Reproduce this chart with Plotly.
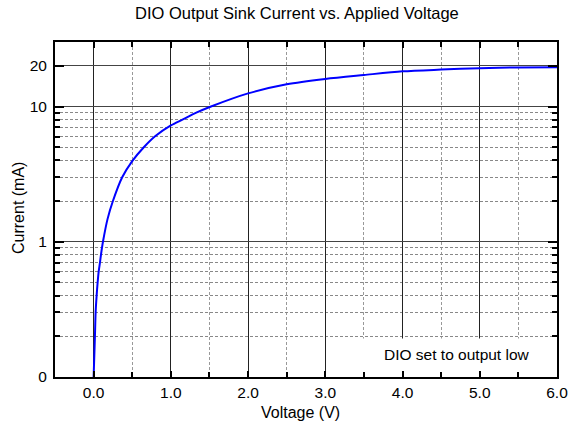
import plotly.graph_objects as go

# Data
voltage = [0.0, 0.017, 0.026, 0.039, 0.052, 0.065, 0.082, 0.095, 0.108, 0.121,
           0.18, 0.25, 0.37, 0.5, 0.65, 0.8, 1.0, 1.15, 1.33, 1.52,
           2.0, 2.5, 3.0, 3.5, 4.0, 4.5, 5.0, 5.5, 6.0]
current = [0.1, 0.2, 0.3, 0.4, 0.5, 0.6, 0.7, 0.8, 0.9, 1.0,
           1.47, 2.0, 3.0, 3.95, 5.0, 6.05, 7.25, 8.0, 9.0, 10.0,
           12.5, 14.6, 16.0, 17.1, 18.2, 18.75, 19.2, 19.45, 19.55]

x_tick_vals = [0, 1, 2, 3, 4, 5, 6]
x_tick_text = ["0.0", "1.0", "2.0", "3.0", "4.0", "5.0", "6.0"]
x_minor_vals = [-0.5, 0.5, 1.5, 2.5, 3.5, 4.5, 5.5]
y_tick_vals = [0.1, 1, 10, 20]
y_tick_text = ["0", "1", "10", "20"]
y_minor_vals = [0.2, 0.3, 0.4, 0.5, 0.6, 0.7, 0.8, 0.9, 2, 3, 4, 5, 6, 7, 8, 9]

# note box extent (x in volts, y in mA) – background only
note_box_x = [3.2, 6.0]
note_box_y = [0.1, 0.193]

FONT = "Liberation Sans, Arial, Helvetica, sans-serif"

fig = go.Figure()

# white background for the note, above gridlines, below axes
fig.add_trace(go.Scatter(
    x=[note_box_x[0], note_box_x[1], note_box_x[1], note_box_x[0], note_box_x[0]],
    y=[note_box_y[0], note_box_y[0], note_box_y[1], note_box_y[1], note_box_y[0]],
    mode="lines", fill="toself", fillcolor="white",
    line=dict(width=0, color="white"),
    showlegend=False, hoverinfo="skip"))

fig.add_trace(go.Scatter(
    x=voltage, y=current, mode="lines",
    line=dict(color="#0000FF", width=2, shape="spline", smoothing=0.8),
    showlegend=False, hoverinfo="skip"))

fig.update_layout(
    width=569, height=430,
    margin=dict(l=55, r=12, t=42, b=53),
    paper_bgcolor="white", plot_bgcolor="white",
    font=dict(family=FONT, size=15.5, color="black"),
)

fig.update_xaxes(
    range=[-0.5, 6.0], autorange=False,
    tickmode="array", tickvals=x_tick_vals, ticktext=x_tick_text,
    ticks="inside", ticklen=6, tickwidth=1.5, tickcolor="black",
    showgrid=True, gridcolor="#222222", gridwidth=1,
    showline=True, linecolor="black", linewidth=2, mirror="ticks",
    zeroline=False, automargin=False,
    tickfont=dict(family=FONT, size=15.5),
    minor=dict(tickmode="array", tickvals=x_minor_vals, ticks="inside",
               ticklen=5, tickwidth=1.5, tickcolor="black",
               showgrid=True, gridcolor="#999999", griddash="3px,2px", gridwidth=1),
)

fig.update_yaxes(
    type="log", range=[-1, 1.477], autorange=False,
    tickmode="array", tickvals=y_tick_vals, ticktext=y_tick_text,
    ticks="inside", ticklen=9, tickwidth=1.5, tickcolor="black",
    showgrid=True, gridcolor="#444444", gridwidth=1,
    showline=True, linecolor="black", linewidth=2, mirror="ticks",
    zeroline=False, automargin=False, ticklabelstandoff=3,
    tickfont=dict(family=FONT, size=15.5),
    minor=dict(tickmode="array", tickvals=y_minor_vals, ticks="inside",
               ticklen=5, tickwidth=1.5, tickcolor="black",
               showgrid=True, gridcolor="#888888", griddash="3px,2px", gridwidth=1),
)

fig.add_annotation(text="DIO set to output low", xref="x", yref="paper",
                   x=4.71, y=(430 - 53 - 354) / 335, showarrow=False,
                   font=dict(family=FONT, size=15.5, color="black"),
                   xanchor="center", yanchor="middle")

# Title and axis titles
fig.add_annotation(text="DIO Output Sink Current vs. Applied Voltage",
                   xref="paper", yref="paper", x=(297 - 55) / 502,
                   y=(430 - 53 - 13) / 335, showarrow=False,
                   font=dict(family=FONT, size=16.5, color="black"),
                   xanchor="center", yanchor="middle")
fig.add_annotation(text="Voltage (V)", xref="paper", yref="paper",
                   x=(300 - 55) / 502, y=(430 - 53 - 412) / 335, showarrow=False,
                   font=dict(family=FONT, size=16, color="black"),
                   xanchor="center", yanchor="middle")
fig.add_annotation(text="Current (mA)", xref="paper", yref="paper",
                   x=(18 - 55) / 502, y=(430 - 53 - 208) / 335, showarrow=False,
                   textangle=-90,
                   font=dict(family=FONT, size=16, color="black"),
                   xanchor="center", yanchor="middle")

fig.write_html("out.html", config={"displayModeBar": False},
               post_script="document.body.style.margin='0px';")
